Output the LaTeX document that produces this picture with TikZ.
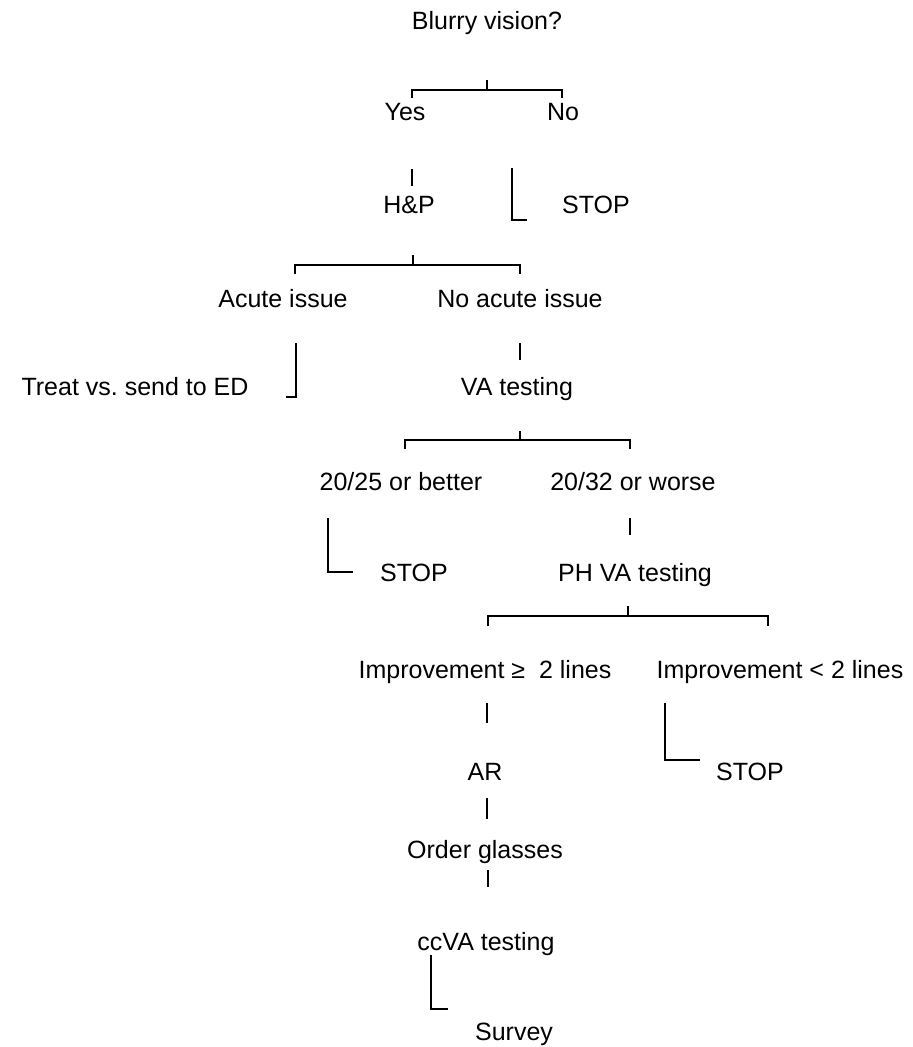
\documentclass[tikz,border=0pt]{standalone}
\usepackage{fontspec}
\setmainfont{Liberation Sans}
\frenchspacing
\begin{document}
\begin{tikzpicture}[x=1pt,y=-1pt,
  lbl/.style={anchor=base,inner sep=0pt,font=\fontsize{25}{30}\selectfont},
  link/.style={line width=1.9pt,line join=miter}]
\useasboundingbox (0,0) rectangle (913,1047);
% texts
\node[lbl] (q)       at (487,29)  {Blurry vision?};
\node[lbl] (yes)     at (405,120) {Yes};
\node[lbl] (no)      at (563,120) {No};
\node[lbl] (hp)      at (409,213) {H\&P};
\node[lbl] (stopa)   at (596,213) {STOP};
\node[lbl] (acute)   at (283,307) {Acute issue};
\node[lbl] (noacute) at (520,307) {No acute issue};
\node[lbl] (treat)   at (135,395) {Treat vs.\ send to ED};
\node[lbl] (va)      at (517,395) {VA testing};
\node[lbl] (better)  at (401,490) {20/25 or better};
\node[lbl] (worse)   at (633,490) {20/32 or worse};
\node[lbl] (stopb)   at (414,581) {STOP};
\node[lbl] (ph)      at (635,581) {PH VA testing};
\node[lbl] (impa)    at (485,678) {Improvement ≥\ \ 2 lines};
\node[lbl] (impb)    at (780,678) {Improvement < 2 lines};
\node[lbl] (ar)      at (485,780) {AR};
\node[lbl] (stopc)   at (750,780) {STOP};
\node[lbl] (order)   at (485,858) {Order glasses};
\node[lbl] (ccva)    at (486,950) {ccVA testing};
\node[lbl] (survey)  at (514,1040) {Survey};
% connector points
\coordinate (q1) at (487,80);  \coordinate (q2) at (487,90);
\coordinate (q3) at (412,98);  \coordinate (q4) at (412,90);
\coordinate (q5) at (562,90);  \coordinate (q6) at (562,98);
\coordinate (y1) at (412,169); \coordinate (y2) at (412,186);
\coordinate (n1) at (512,168); \coordinate (n2) at (512,220); \coordinate (n3) at (527,220);
\coordinate (h1) at (413,255); \coordinate (h2) at (413,265);
\coordinate (h3) at (295,274); \coordinate (h4) at (295,265);
\coordinate (h5) at (520,265); \coordinate (h6) at (520,274);
\coordinate (a1) at (296,343); \coordinate (a2) at (296,397); \coordinate (a3) at (286,397);
\coordinate (b1) at (520,343); \coordinate (b2) at (520,360);
\coordinate (v1) at (520,431); \coordinate (v2) at (520,440);
\coordinate (v3) at (405,449); \coordinate (v4) at (405,440);
\coordinate (v5) at (630,440); \coordinate (v6) at (630,449);
\coordinate (c1) at (328,518); \coordinate (c2) at (328,572); \coordinate (c3) at (353,572);
\coordinate (d1) at (630,518); \coordinate (d2) at (630,535);
\coordinate (p1) at (628,606); \coordinate (p2) at (628,616);
\coordinate (p3) at (488,626); \coordinate (p4) at (488,616);
\coordinate (p5) at (768,616); \coordinate (p6) at (768,626);
\coordinate (e1) at (487,703); \coordinate (e2) at (487,723);
\coordinate (f1) at (665,703); \coordinate (f2) at (665,760); \coordinate (f3) at (700,760);
\coordinate (g1) at (487,798); \coordinate (g2) at (487,819);
\coordinate (k1) at (488,870); \coordinate (k2) at (488,887);
\coordinate (m1) at (431,955); \coordinate (m2) at (431,1009); \coordinate (m3) at (448,1009);
% connectors
\draw[link] (q1) -- (q2);
\draw[link] (q3) -- (q4) -- (q5) -- (q6);
\draw[link] (y1) -- (y2);
\draw[link] (n1) -- (n2) -- (n3);
\draw[link] (h1) -- (h2);
\draw[link] (h3) -- (h4) -- (h5) -- (h6);
\draw[link] (a1) -- (a2) -- (a3);
\draw[link] (b1) -- (b2);
\draw[link] (v1) -- (v2);
\draw[link] (v3) -- (v4) -- (v5) -- (v6);
\draw[link] (c1) -- (c2) -- (c3);
\draw[link] (d1) -- (d2);
\draw[link] (p1) -- (p2);
\draw[link] (p3) -- (p4) -- (p5) -- (p6);
\draw[link] (e1) -- (e2);
\draw[link] (f1) -- (f2) -- (f3);
\draw[link] (g1) -- (g2);
\draw[link] (k1) -- (k2);
\draw[link] (m1) -- (m2) -- (m3);
\end{tikzpicture}
\end{document}
